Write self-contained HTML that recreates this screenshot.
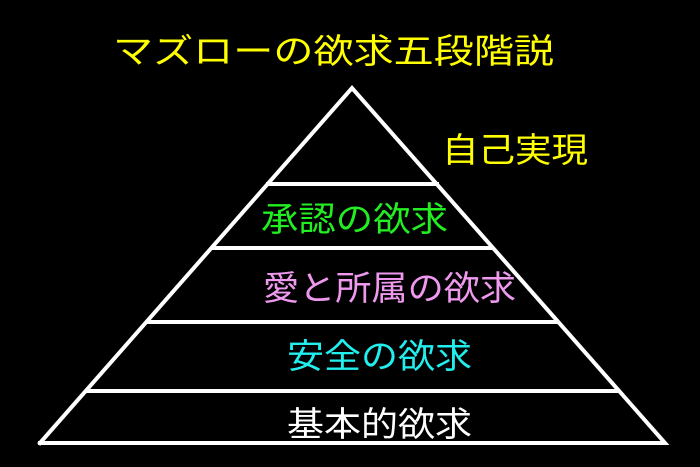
<!DOCTYPE html>
<html><head><meta charset="utf-8"><style>
html,body{margin:0;padding:0;background:#000;width:700px;height:467px;overflow:hidden}
text{font-family:"Liberation Sans","Noto Sans CJK JP",sans-serif;font-size:34px}
</style></head><body>
<svg width="700" height="467" viewBox="0 0 700 467" xmlns="http://www.w3.org/2000/svg">
<rect width="700" height="467" fill="#000"/>
<g stroke="#fff" stroke-width="4" fill="none" stroke-linecap="square">
<polyline points="40,443 352,88 665,443 40,443"/>
<line x1="268" y1="184" x2="437" y2="184"/>
<line x1="213" y1="248" x2="492" y2="248"/>
<line x1="148" y1="322" x2="557" y2="322"/>
<line x1="88" y1="391" x2="616" y2="391"/>
</g>
<text x="113" y="63" fill="#ffff00" font-size="35" textLength="441" lengthAdjust="spacingAndGlyphs">マズローの欲求五段階説</text>
<text x="442" y="162" fill="#ffff00" textLength="146" lengthAdjust="spacingAndGlyphs">自己実現</text>
<text x="261" y="231" fill="#22ee22" textLength="187" lengthAdjust="spacingAndGlyphs">承認の欲求</text>
<text x="263" y="300" fill="#ee99ee" textLength="253" lengthAdjust="spacingAndGlyphs">愛と所属の欲求</text>
<text x="287" y="368" fill="#22eeee" textLength="185" lengthAdjust="spacingAndGlyphs">安全の欲求</text>
<text x="287" y="436" fill="#ffffff" textLength="185" lengthAdjust="spacingAndGlyphs">基本的欲求</text>
</svg>
</body></html>
